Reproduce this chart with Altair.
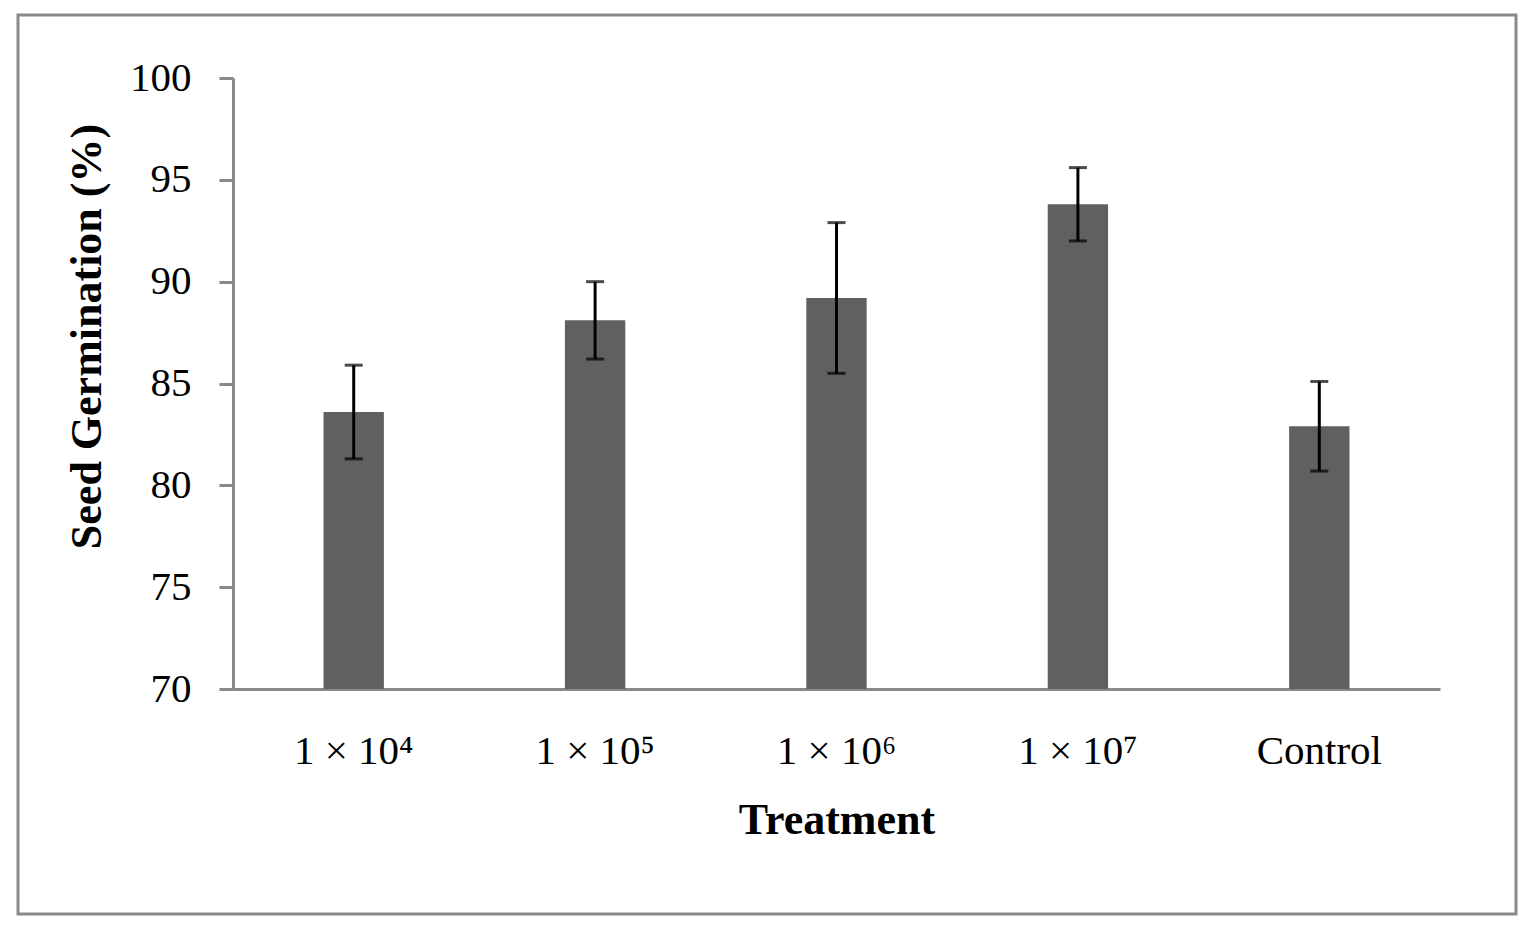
import altair as alt
import pandas as pd

treatments = ["1 × 10⁴", "1 × 10⁵", "1 × 10⁶", "1 × 10⁷", "Control"]
germination = [83.6, 88.1, 89.2, 93.8, 82.9]
err_low = [81.3, 86.2, 85.5, 92.0, 80.7]
err_high = [85.9, 90.0, 92.9, 95.6, 85.1]

df = pd.DataFrame({"treatment": treatments, "value": germination,
                   "lo": err_low, "hi": err_high})

FONT = "Liberation Serif"
W, H = 1207, 611

x = alt.X("treatment:N", sort=treatments, title="Treatment",
          scale=alt.Scale(paddingInner=0.75, paddingOuter=0.375),
          axis=alt.Axis(labelAngle=0, ticks=False, labelPadding=42,
                        titlePadding=27, domainColor="#898989", domainWidth=3))
yscale = alt.Scale(domain=[70, 100], nice=False, zero=False)

base = alt.Chart(df)

frame = base.mark_rect(fill=None, stroke="#898989", strokeWidth=3, clip=False).encode(
    x=alt.value(-215), x2=alt.value(1283), y=alt.value(-63), y2=alt.value(836)
).transform_filter("datum.treatment == 'Control'")

bars = base.mark_bar(color="#606060").encode(
    x=x,
    y=alt.Y("value:Q", scale=yscale, title="Seed Germination (%)",
            axis=alt.Axis(values=[70, 75, 80, 85, 90, 95, 100], grid=False,
                          tickSize=14, tickWidth=3, tickColor="#898989",
                          domainColor="#898989", domainWidth=3,
                          labelPadding=28, titlePadding=20, titleY=258)),
    y2=alt.datum(70),
)

rules = base.mark_rule(color="black", strokeWidth=3).encode(
    x=alt.X("treatment:N", sort=treatments), y="lo:Q", y2="hi:Q")
cap_lo = base.mark_tick(color="black", thickness=3, size=18, orient="horizontal").encode(
    x=alt.X("treatment:N", sort=treatments), y="lo:Q")
cap_hi = base.mark_tick(color="black", thickness=3, size=18, orient="horizontal").encode(
    x=alt.X("treatment:N", sort=treatments), y="hi:Q")

chart = alt.layer(frame, bars, rules, cap_lo, cap_hi).properties(
    width=W, height=H,
    autosize=alt.AutoSizeParams(type="none"),
    padding={"left": 225, "top": 70, "right": 80, "bottom": 240},
).configure_view(stroke=None).configure_axis(
    labelFont=FONT, titleFont=FONT, labelFontSize=41, titleFontSize=44,
    labelColor="black", titleColor="black", titleFontWeight="bold",
)

chart.save("out.html", embed_options={"renderer": "svg", "actions": False})
